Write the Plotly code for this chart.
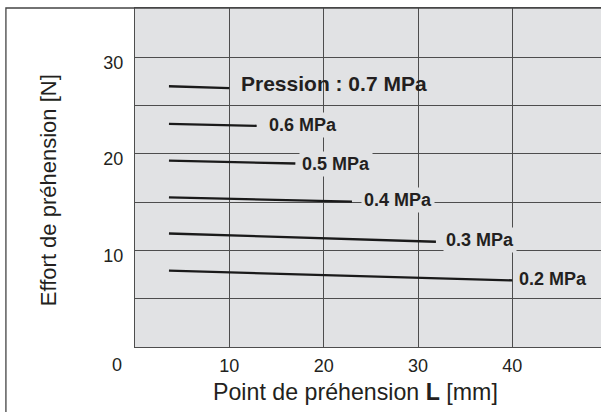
import plotly.graph_objects as go

# ---- data ----
pressure_labels = ["Pression : 0.7 MPa", "0.6 MPa", "0.5 MPa", "0.4 MPa", "0.3 MPa", "0.2 MPa"]
x_start = [3.6, 3.6, 3.6, 3.6, 3.6, 3.6]
x_end = [10.0, 12.9, 17.0, 23.0, 31.9, 40.0]
y_start = [27.0, 23.1, 19.3, 15.5, 11.75, 7.9]
y_end = [26.8, 22.9, 19.0, 15.05, 10.9, 6.9]
label_x = [10.95, 13.87, 17.41, 23.91, 32.68, 40.38]
label_y = [27.3, 22.95, 18.94, 15.25, 11.04, 7.07]

x_ticks = [10, 20, 30, 40]
y_grid = [5, 10, 15, 20, 25, 30]
y_ticktext = ["", "10", "", "20", "", "30"]

x_title = "Point de préhension <b>L</b> [mm]"
y_title = "Effort de préhension [N]"

FONT = "Liberation Sans, Arial, Helvetica, sans-serif"
TXT = "#231f20"
BG = "#e1e2e4"
GRID = "#4d4d4d"

fig = go.Figure()
for xs, xe, ys, ye in zip(x_start, x_end, y_start, y_end):
    fig.add_trace(go.Scatter(x=[xs, xe], y=[ys, ye], mode="lines",
                             line=dict(color="#1a1a1a", width=2.3),
                             showlegend=False, hoverinfo="skip"))

for i, (t, lx, ly) in enumerate(zip(pressure_labels, label_x, label_y)):
    fig.add_annotation(x=lx, y=ly, text="<b>%s</b>" % t, showarrow=False,
                       xanchor="left", yanchor="middle",
                       font=dict(family=FONT, size=21 if i == 0 else 18, color=TXT),
                       bgcolor=None if i == 0 else BG, borderpad=2)

# origin label
fig.add_annotation(x=0, y=0, text="0", showarrow=False, xshift=-18, yshift=-18,
                   font=dict(family=FONT, size=18, color=TXT))
# axis titles
fig.add_annotation(x=0.474, y=-0.133, xref="paper", yref="paper", text=x_title,
                   showarrow=False, xanchor="center", yanchor="middle",
                   font=dict(family=FONT, size=23.2, color=TXT))
fig.add_annotation(x=-0.185, y=0.462, xref="paper", yref="paper", text=y_title,
                   showarrow=False, textangle=-90, xanchor="center", yanchor="middle",
                   font=dict(family=FONT, size=22, color=TXT))

# outer frame
fig.add_shape(type="rect", xref="paper", yref="paper", x0=-0.277, x1=1.05,
              y0=-0.4, y1=1.0, line=dict(color="#444444", width=1.3), layer="above")

fig.update_layout(
    width=601, height=412,
    margin=dict(l=135, r=0, t=8, b=65),
    paper_bgcolor="white", plot_bgcolor=BG,
    xaxis=dict(range=[0, 49.4], tickvals=x_ticks, showgrid=True, gridcolor=GRID,
               gridwidth=1, zeroline=False, showline=True, mirror=True,
               linecolor=GRID, linewidth=1.3, ticks="", ticklabelstandoff=2,
               tickfont=dict(family=FONT, size=18, color=TXT)),
    yaxis=dict(range=[0, 35.1], tickvals=y_grid, ticktext=y_ticktext, showgrid=True,
               gridcolor=GRID, gridwidth=1, zeroline=False, showline=True, mirror=True,
               linecolor=GRID, linewidth=1.3, ticks="", ticklabelstandoff=7,
               ticklabelshift=5,
               tickfont=dict(family=FONT, size=18, color=TXT)),
)

fig.write_html("out.html")
